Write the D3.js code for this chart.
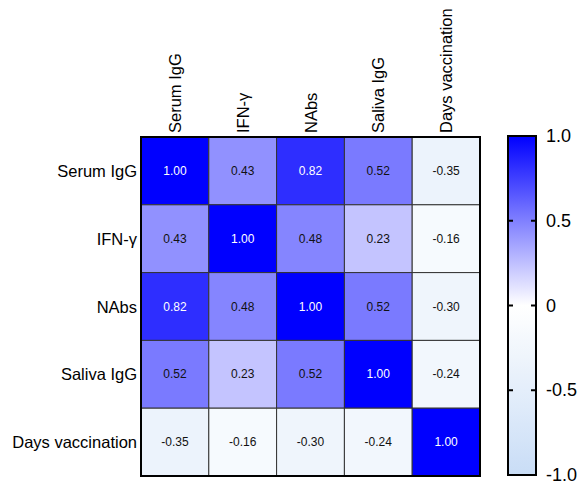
<!DOCTYPE html>
<html><head><meta charset="utf-8">
<script src="https://cdn.jsdelivr.net/npm/d3@7"></script>
<style>body{margin:0;background:#fff}svg{display:block}text{font-family:"Liberation Sans",Arial,sans-serif}</style>
</head><body>
<svg id="c" width="580" height="484"></svg>
<script>
const variables = ["Serum IgG","IFN-γ","NAbs","Saliva IgG","Days vaccination"];
const matrix = [
  [1.00, 0.43, 0.82, 0.52, -0.35],
  [0.43, 1.00, 0.48, 0.23, -0.16],
  [0.82, 0.48, 1.00, 0.52, -0.30],
  [0.52, 0.23, 0.52, 1.00, -0.24],
  [-0.35,-0.16,-0.30,-0.24, 1.00]
];
const colorTicks = [1.0, 0.5, 0, -0.5, -1.0];
const colorTickLabels = ["1.0","0.5","0","-0.5","-1.0"];

const svg = d3.select("#c");
const gx0 = 141, gy0 = 137, gsize = 339;
const x = d3.scaleBand().domain(variables).range([gx0, gx0+gsize]);
const y = d3.scaleBand().domain(variables).range([gy0, gy0+gsize]);
const color = d3.scaleLinear().domain([-1,0,1]).range(["#c9ddf6","#ffffff","#0000ff"]).interpolate(d3.interpolateRgb);

const cells = [];
matrix.forEach((row,i)=>row.forEach((v,j)=>cells.push({r:variables[i],c:variables[j],v})));

svg.append("g").selectAll("rect").data(cells).join("rect")
  .attr("x",d=>x(d.c)).attr("y",d=>y(d.r))
  .attr("width",x.bandwidth()).attr("height",y.bandwidth())
  .attr("fill",d=>color(d.v)).attr("stroke","#333").attr("stroke-width",1);

svg.append("g").selectAll("text").data(cells).join("text")
  .attr("x",d=>x(d.c)+x.bandwidth()/2).attr("y",d=>y(d.r)+y.bandwidth()/2)
  .attr("text-anchor","middle").attr("dominant-baseline","central")
  .attr("font-size",12).attr("fill",d=>d.v>=0.7?"#fff":"#111")
  .text(d=>d.v.toFixed(2));

svg.append("rect").attr("x",gx0).attr("y",gy0).attr("width",gsize).attr("height",gsize)
  .attr("fill","none").attr("stroke","#000").attr("stroke-width",2);

// row labels
svg.append("g").selectAll("text").data(variables).join("text")
  .attr("x",gx0-4).attr("y",d=>y(d)+y.bandwidth()/2)
  .attr("text-anchor","end").attr("dominant-baseline","central")
  .attr("font-size",16.5).attr("fill","#000").text(d=>d);

// column labels
svg.append("g").selectAll("text").data(variables).join("text")
  .attr("transform",d=>`translate(${x(d)+x.bandwidth()/2},${gy0-4}) rotate(-90)`)
  .attr("text-anchor","start").attr("dominant-baseline","central")
  .attr("font-size",16.5).attr("fill","#000").text(d=>d);

// colorbar
const cbx = 508, cbw = 28, cby0 = 136, cby1 = 475;
const cy = d3.scaleLinear().domain([-1,1]).range([cby1,cby0]);
const defs = svg.append("defs");
const grad = defs.append("linearGradient").attr("id","cg").attr("x1",0).attr("y1",1).attr("x2",0).attr("y2",0);
d3.range(-1,1.001,0.1).forEach(t=>grad.append("stop").attr("offset",(t+1)/2).attr("stop-color",color(t)));
svg.append("rect").attr("x",cbx).attr("y",cby0).attr("width",cbw).attr("height",cby1-cby0)
  .attr("fill","url(#cg)").attr("stroke","#000").attr("stroke-width",2);
const tg = svg.append("g").selectAll("g").data(colorTicks).join("g");
tg.append("line").attr("x1",cbx).attr("x2",cbx+5).attr("y1",d=>cy(d)).attr("y2",d=>cy(d)).attr("stroke","#000").attr("stroke-width",2);
tg.append("line").attr("x1",cbx+cbw-5).attr("x2",cbx+cbw).attr("y1",d=>cy(d)).attr("y2",d=>cy(d)).attr("stroke","#000").attr("stroke-width",2);
tg.append("text").attr("x",cbx+cbw+10).attr("y",d=>cy(d))
  .attr("dominant-baseline","central").attr("font-size",18).attr("fill","#000")
  .text((d,i)=>colorTickLabels[i]);
</script>
</body></html>
